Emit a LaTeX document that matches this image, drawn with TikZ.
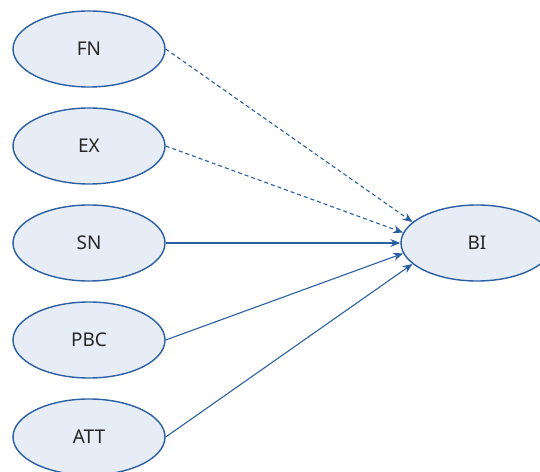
\documentclass[tikz,border=0pt]{standalone}
\usepackage{fontspec}
\setmainfont{Noto Sans}
\usetikzlibrary{arrows.meta,shapes.geometric}
\definecolor{edgeblue}{HTML}{2A5FA3}
\definecolor{fillblue}{HTML}{E6EDF6}
\begin{document}
\begin{tikzpicture}[x=1bp,y=-1bp,
  construct/.style={ellipse,draw=edgeblue,fill=fillblue,line width=1.4bp,
    minimum width=152bp,minimum height=76bp,inner sep=0pt,
    font=\fontsize{19}{21}\selectfont,text=black!85},
  link/.style={draw=edgeblue,line width=1.1bp,-{Stealth[length=10bp,width=8bp]}},
  dashlink/.style={link,dash pattern=on 4bp off 3bp}]
\useasboundingbox (0,0) rectangle (540,472);
\node[construct] (FN) at (89,49) {FN};
\node[construct] (EX) at (89,146) {EX};
\node[construct] (SN) at (89,243) {SN};
\node[construct] (PBC) at (89,340) {PBC};
\node[construct] (ATT) at (89,437) {ATT};
\node[construct] (BI) at (477,243) {BI};
\draw[dashlink] (FN.east) -- (BI.162);
\draw[dashlink] (EX.east) -- (BI.172);
\draw[link] (SN.east) -- (BI.west);
\draw[link] (PBC.east) -- (BI.188);
\draw[link] (ATT.east) -- (BI.198);
\end{tikzpicture}
\end{document}
